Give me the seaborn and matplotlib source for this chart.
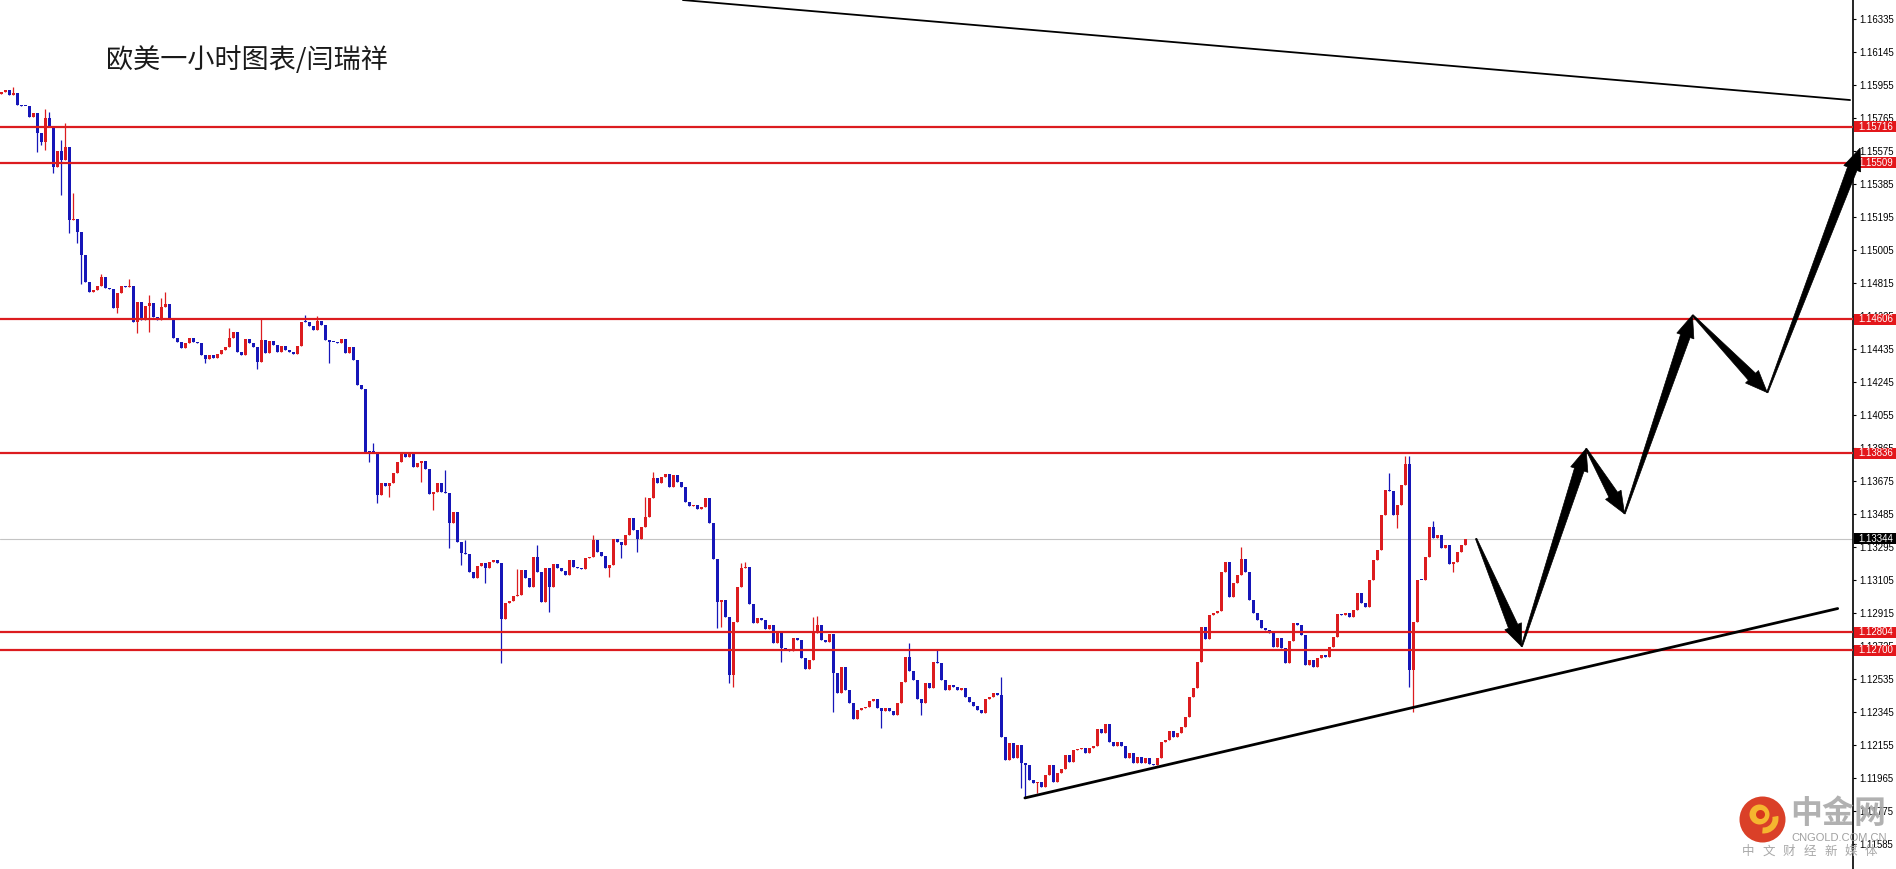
import numpy as np
import seaborn as sns
import matplotlib
matplotlib.use("Agg")
import matplotlib.pyplot as plt
from matplotlib.patches import Rectangle, Polygon, Circle, Wedge
from matplotlib.transforms import IdentityTransform

title = "欧美一小时图表/闫瑞祥"

# EURUSD hourly closes, in 0.00001 price units
first_open = 115905
closes = [
    115916, 115928, 115899, 115910, 115841, 115835, 115835, 115772, 115795, 115680,
    115628, 115766, 115714, 115484, 115576, 115524, 115599, 115179, 115185, 115110,
    114977, 114822, 114764, 114776, 114799, 114851, 114787, 114781, 114672, 114758,
    114799, 114793, 114799, 114591, 114706, 114603, 114683, 114701, 114620, 114603,
    114678, 114695, 114609, 114499, 114476, 114442, 114470, 114499, 114476, 114470,
    114401, 114378, 114401, 114384, 114407, 114430, 114447, 114499, 114534, 114418,
    114401, 114493, 114470, 114447, 114361, 114488, 114413, 114482, 114459, 114418,
    114453, 114430, 114418, 114407, 114453, 114591, 114591, 114568, 114545, 114597,
    114574, 114488, 114476, 114476, 114470, 114493, 114413, 114447, 114372, 114228,
    114205, 113842, 113842, 113842, 113595, 113664, 113647, 113664, 113722, 113785,
    113837, 113814, 113831, 113756, 113779, 113791, 113745, 113601, 113612, 113664,
    113612, 113606, 113434, 113497, 113324, 113261, 113255, 113151, 113117, 113186,
    113203, 113174, 113209, 113220, 113203, 112881, 112973, 112984, 113013, 113019,
    113163, 113117, 113065, 113238, 113151, 112978, 113174, 113065, 113197, 113174,
    113157, 113134, 113220, 113180, 113174, 113169, 113232, 113238, 113336, 113266,
    113243, 113174, 113192, 113341, 113324, 113307, 113364, 113462, 113393, 113341,
    113411, 113468, 113578, 113693, 113664, 113699, 113716, 113641, 113710, 113670,
    113641, 113554, 113531, 113537, 113514, 113526, 113578, 113434, 113226, 112978,
    112990, 112892, 112558, 112863, 113065, 113174, 113180, 112967, 112857, 112886,
    112875, 112823, 112846, 112742, 112800, 112713, 112702, 112696, 112771, 112760,
    112656, 112593, 112644, 112800, 112846, 112760, 112748, 112794, 112570, 112454,
    112604, 112472, 112397, 112305, 112356, 112368, 112374, 112408, 112420, 112368,
    112351, 112368, 112351, 112328, 112397, 112518, 112662, 112581, 112529, 112420,
    112397, 112512, 112483, 112633, 112627, 112529, 112472, 112500, 112489, 112472,
    112483, 112431, 112402, 112379, 112356, 112339, 112420, 112431, 112454, 112443,
    112201, 112068, 112166, 112080, 112155, 112051, 112040, 111953, 111936, 111942,
    111913, 111982, 112040, 111942, 111994, 112017, 112097, 112057, 112126, 112132,
    112138, 112109, 112138, 112149, 112247, 112224, 112276, 112172, 112149, 112172,
    112149, 112080, 112109, 112051, 112086, 112051, 112080, 112045, 112040, 112080,
    112172, 112184, 112235, 112201, 112224, 112258, 112316, 112431, 112483, 112633,
    112834, 112765, 112904, 112915, 112927, 113151, 113209, 113007, 113088, 113134,
    113226, 113151, 112990, 112915, 112875, 112829, 112817, 112800, 112719, 112771,
    112713, 112627, 112754, 112857, 112846, 112788, 112616, 112644, 112604, 112656,
    112673, 112662, 112719, 112777, 112909, 112904, 112915, 112892, 112932, 113030,
    112973, 112950, 113105, 113220, 113278, 113480, 113624, 113618, 113480, 113537,
    113653, 113773, 112587, 112863, 113105, 113105, 113238, 113411, 113347, 113364,
    113290, 113307, 113197, 113209, 113266, 113307, 113344,
]
# candles with visible long wicks
long_highs = {3: 115945, 11: 115818, 12: 115801, 15: 115640, 16: 115738, 18: 115334,
              25: 114868, 32: 114839, 37: 114747, 40: 114730, 41: 114764, 57: 114557,
              65: 114609, 76: 114632, 79: 114626, 93: 113894, 111: 113739, 116: 113336,
              129: 113168, 134: 113307, 148: 113365, 161: 113583, 163: 113727,
              185: 113203, 186: 113209, 203: 112892, 204: 112898, 227: 112742,
              234: 112702, 250: 112547, 310: 113295, 347: 113722, 351: 113820,
              352: 113820, 358: 113445}
long_lows = {9: 115570, 10: 115611, 11: 115582, 13: 115450, 15: 115323, 17: 115104,
             19: 115046, 20: 114810, 29: 114643, 34: 114528, 37: 114534, 51: 114355,
             64: 114321, 82: 114355, 92: 113785, 94: 113549, 97: 113583, 105: 113670,
             108: 113508, 112: 113289, 115: 113192, 121: 113088, 125: 112627,
             137: 112921, 152: 113122, 155: 113232, 159: 113266, 179: 112829,
             180: 112835, 182: 112512, 183: 112489, 195: 112633, 208: 112345,
             220: 112253, 230: 112328, 255: 111907, 256: 111855, 259: 111878,
             349: 113405, 352: 112489, 353: 112345, 363: 113151}

levels = [1.15716, 1.15509, 1.14606, 1.13836, 1.12804, 1.12700]
last_price = 1.13344
price_ticks = [1.11585, 1.11775, 1.11965, 1.12155, 1.12345, 1.12535, 1.12725,
               1.12915, 1.13105, 1.13295, 1.13485, 1.13675, 1.13865, 1.14055,
               1.14245, 1.14435, 1.14625, 1.14815, 1.15005, 1.15195, 1.15385,
               1.15575, 1.15765, 1.15955, 1.16145, 1.16335]

# trend lines (candle index, price)
top_line_x = [170.4, 462.2]
top_line_y = [1.16446, 1.15870]
support_x = [255.9, 459.1]
support_y = [1.11850, 1.12941]

# projected path drawn as arrows
path_x = [368.7, 380.1, 396.2, 405.8, 422.8, 441.5, 464.7]
path_y = [1.13344, 1.12722, 1.13862, 1.13487, 1.14631, 1.14185, 1.15593]

W, H = 1896, 869
RED = "#dc1c1f"
BLUE = "#1616b8"

sns.set_style("white")
plt.rcParams["font.family"] = ["Noto Sans CJK SC", "DejaVu Sans"]

fig = plt.figure(figsize=(W / 100, H / 100), dpi=100)
ax = fig.add_axes([0, 0, 1853 / W, 1])
ax.set_xlim(-0.33, 462.93)
ax.set_ylim(1.114407, 1.164462)

c = np.array(closes) / 1e5
o = np.r_[first_open / 1e5, c[:-1]]
idx = np.arange(len(c))
hi = np.maximum(o, c)
lo = np.minimum(o, c)
for k, v in long_highs.items():
    hi[k] = max(hi[k], v / 1e5)
for k, v in long_lows.items():
    lo[k] = min(lo[k], v / 1e5)
cols = np.where(c > o, RED, BLUE)

ax.axhline(last_price, color="#c4c4c4", lw=0.8, zorder=1)
ax.vlines(idx, lo, hi, colors=cols, lw=0.9, zorder=2)
ax.bar(idx, np.maximum(np.abs(c - o), 0.00007), bottom=np.minimum(o, c),
       width=0.82, color=cols, linewidth=0, zorder=2)

for lv in levels:
    ax.axhline(lv, color=RED, lw=1.6, zorder=3)

sns.lineplot(x=top_line_x, y=top_line_y, ax=ax, color="black", lw=1.3, zorder=4)
sns.lineplot(x=support_x, y=support_y, ax=ax, color="black", lw=2.0, zorder=4)

# axis styling
for s in ["top", "left", "bottom"]:
    ax.spines[s].set_visible(False)
ax.spines["right"].set_color("black")
ax.spines["right"].set_linewidth(1.2)
ax.set_xticks([])
ax.yaxis.tick_right()
ax.set_yticks(price_ticks)
ax.set_yticklabels([f"{t:.5f}" for t in price_ticks], family="Liberation Sans")
ax.tick_params(axis="y", direction="out", length=2.5, width=0.8, pad=2.4,
               labelsize=6.9, colors="black")

ytr = ax.get_yaxis_transform()
box_h = 11 / 17361
for lv, fc in [(v, "#e3171b") for v in levels] + [(last_price, "black")]:
    ax.add_patch(Rectangle((1.00054, lv - box_h / 2), 0.0227, box_h, transform=ytr,
                           facecolor=fc, edgecolor="none", clip_on=False, zorder=6))
    ax.text(1.0031, lv, f"{lv:.5f}", transform=ytr, color="white", fontsize=6.9,
            va="center", ha="left", family="Liberation Sans", clip_on=False, zorder=7)

# tapered arrows, built in pixel space
pts = ax.transData.transform(np.c_[path_x, path_y])
for a, b in zip(pts[:-1], pts[1:]):
    d = b - a
    u = d / np.hypot(*d)
    n = np.array([-u[1], u[0]])
    base = b - 22 * u
    poly = [a + 0.7 * n, base + 5 * n, base + 9 * n, b, base - 9 * n, base - 5 * n, a - 0.7 * n]
    fig.add_artist(Polygon(poly, closed=True, transform=IdentityTransform(),
                           facecolor="black", edgecolor="black", lw=0.5, zorder=8))

fig.text(106 / W, 1 - 60 / H, title, fontsize=19.5, color="#1a1a1a", va="center", ha="left")

# watermark
cx, cy = 1762.5, H - 819.5
fig.add_artist(Circle((cx, cy), 23, transform=IdentityTransform(), facecolor="#d8361c",
                      edgecolor="none", alpha=0.95, zorder=9))
fig.add_artist(Wedge((cx + 1, cy + 1), 15, -95, 10, width=6, transform=IdentityTransform(),
                     facecolor="#f5b62f", edgecolor="none", zorder=10))
fig.add_artist(Circle((cx - 3, cy + 5), 10, transform=IdentityTransform(), facecolor="#f5b62f",
                      edgecolor="none", zorder=10))
fig.add_artist(Circle((cx - 2, cy + 5), 4.5, transform=IdentityTransform(), facecolor="#d8361c",
                      edgecolor="none", zorder=11))
fig.text(1790 / W, 1 - 814 / H, "中金网", fontsize=23, fontweight="bold", color="#a9a9a9",
         alpha=0.9, va="center", ha="left", zorder=9)
fig.text(1791 / W, 1 - 838 / H, "CNGOLD.COM.CN", fontsize=8, color="#a0a0a0",
         family="Liberation Sans", va="center", ha="left", zorder=9)
for k, ch in enumerate("中文财经新媒体"):
    fig.text((1742 + k * 20.5) / W, 1 - 851 / H, ch, fontsize=9, color="#a8a8a8",
             va="center", ha="left", zorder=9)

fig.savefig("out.png", dpi=100)
